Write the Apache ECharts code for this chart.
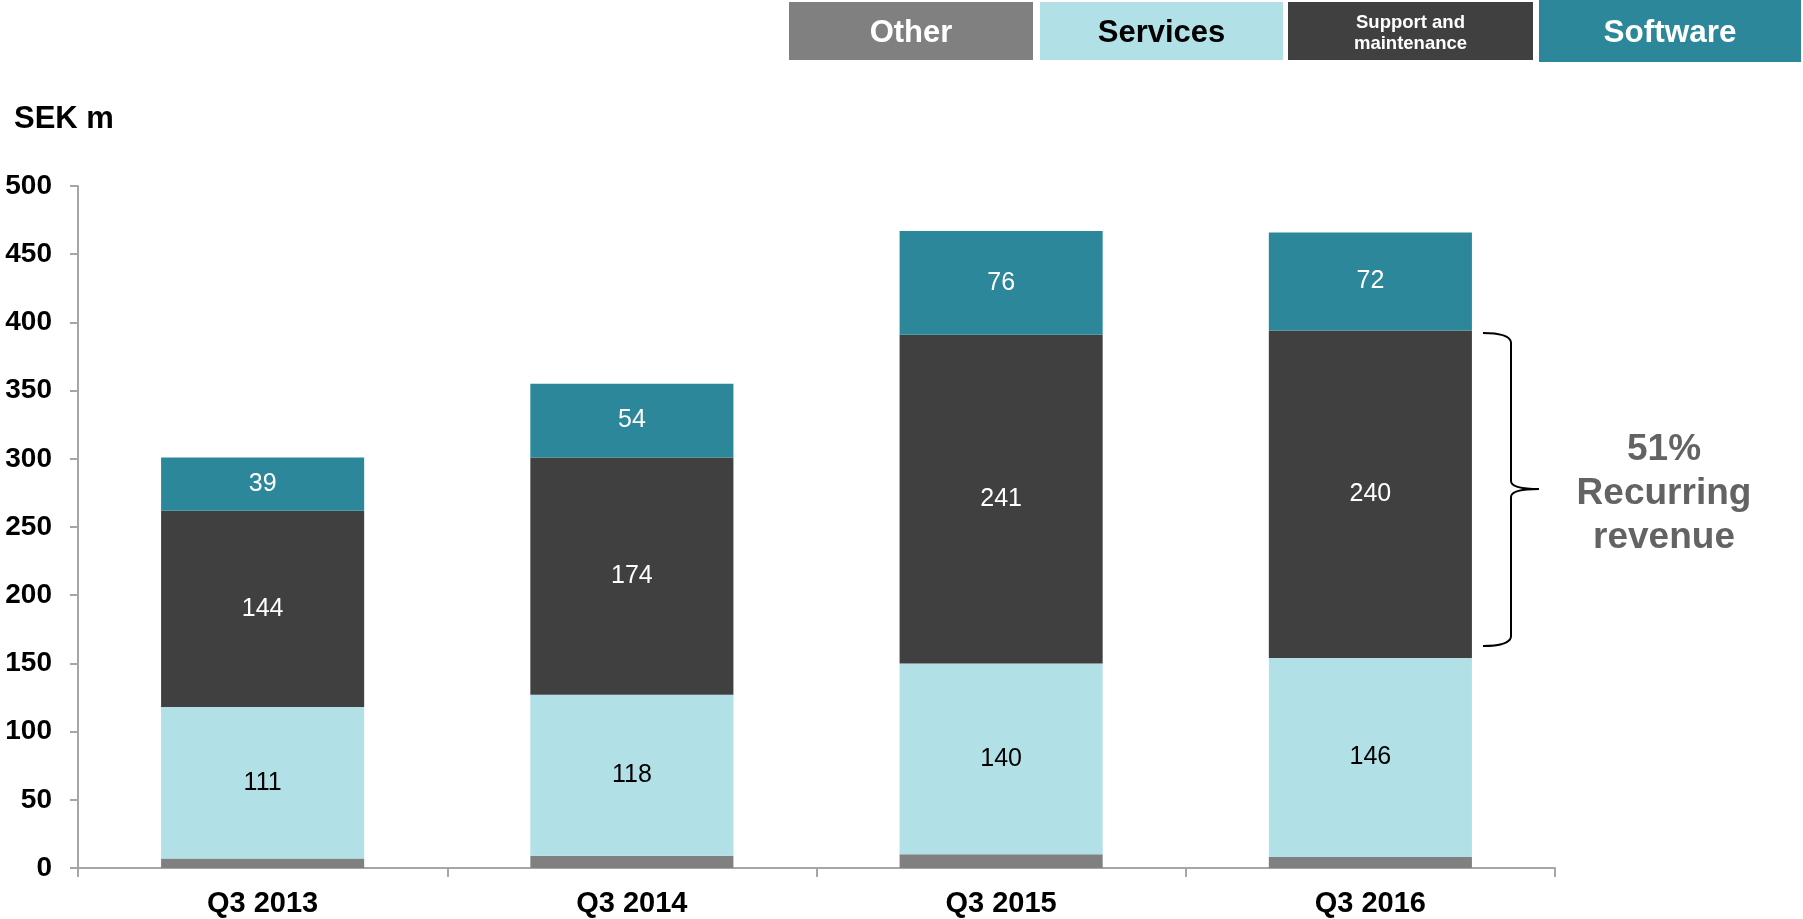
<!DOCTYPE html>
<html>
<head>
<meta charset="utf-8">
<script src="https://cdn.jsdelivr.net/npm/echarts@6/dist/echarts.min.js"></script>
<style>
    html, body {margin: 0; padding: 0; background: #fff;}
    #main {width: 1803px; height: 919px;}
</style>
</head>
<body>
<div id="main"></div>
<script>
// values, SEK m
var categories = ['Q3 2013', 'Q3 2014', 'Q3 2015', 'Q3 2016'];
var other = [7, 9, 10, 8];
var services = [111, 118, 140, 146];
var support = [144, 174, 241, 240];
var software = [39, 54, 76, 72];

var font = "'Liberation Sans', Arial, sans-serif";
var colors = {other: '#808080', services: '#b1e0e7', support: '#404040', software: '#2b8799'};

function seg(name, data, color, labelColor) {
    return {
        name: name,
        type: 'bar',
        stack: 'total',
        barWidth: '55%',
        data: data,
        itemStyle: {color: color},
        label: {
            show: labelColor != null,
            position: 'inside',
            color: labelColor,
            fontFamily: font,
            fontSize: 25
        }
    };
}

function legendBox(x, y, w, h, color, text, textColor, size, lh) {
    return [
        {type: 'rect', shape: {x: x, y: y, width: w, height: h}, style: {fill: color}},
        {
            type: 'text', x: x + w / 2, y: 33,
            style: {
                text: text, fill: textColor, font: 'bold ' + size + 'px ' + font,
                align: 'center', verticalAlign: 'middle', lineHeight: lh
            }
        }
    ];
}

var chart = echarts.init(document.getElementById('main'));

var graphics = [].concat(
    legendBox(789, 2, 244, 58, colors.other, 'Other', '#fff', 31),
    legendBox(1040, 2, 243, 58, colors.services, 'Services', '#000', 31),
    legendBox(1288, 2, 245, 58, colors.support, 'Support and\nmaintenance', '#fff', 18.5, 21),
    legendBox(1539, 0, 262, 62, colors.software, 'Software', '#fff', 31.5)
);

// bracket for recurring revenue
var bs = {fill: 'none', stroke: '#000', lineWidth: 2};
graphics.push(
    {type: 'bezierCurve', shape: {x1: 1483, y1: 333, x2: 1511, y2: 342, cpx1: 1509, cpy1: 333}, style: bs},
    {type: 'line', shape: {x1: 1511, y1: 342, x2: 1511, y2: 481}, style: bs},
    {type: 'bezierCurve', shape: {x1: 1511, y1: 481, x2: 1539, y2: 489, cpx1: 1511, cpy1: 489}, style: bs},
    {type: 'bezierCurve', shape: {x1: 1539, y1: 489, x2: 1511, y2: 497, cpx1: 1511, cpy1: 489}, style: bs},
    {type: 'line', shape: {x1: 1511, y1: 497, x2: 1511, y2: 637}, style: bs},
    {type: 'bezierCurve', shape: {x1: 1511, y1: 637, x2: 1483, y2: 646, cpx1: 1509, cpy1: 646}, style: bs}
);
graphics.push({
    type: 'text', x: 1664, y: 494,
    style: {
        text: '51%\nRecurring\nrevenue', fill: '#636363', font: 'bold 37px ' + font,
        align: 'center', verticalAlign: 'middle', lineHeight: 44
    }
});

var option = {
    animation: false,
    title: {
        text: 'SEK m',
        left: 9,
        top: 99,
        textStyle: {fontFamily: font, fontSize: 31, fontWeight: 'bold', color: '#000'}
    },
    grid: {left: 78, right: 248, top: 186, bottom: 51},
    xAxis: {
        type: 'category',
        data: categories,
        axisLine: {lineStyle: {color: '#a6a6a6', width: 2}},
        axisTick: {show: true, length: 9, lineStyle: {color: '#a6a6a6', width: 2}},
        axisLabel: {
            margin: 21,
            color: '#000',
            fontFamily: font,
            fontSize: 29,
            fontWeight: 'bold'
        }
    },
    yAxis: {
        type: 'value',
        min: 0,
        max: 500,
        interval: 50,
        splitLine: {show: false},
        axisLine: {show: true, lineStyle: {color: '#a6a6a6', width: 2}},
        axisTick: {show: true, length: 8, lineStyle: {color: '#a6a6a6', width: 2}},
        axisLabel: {
            margin: 26,
            color: '#000',
            fontFamily: font,
            fontSize: 28,
            fontWeight: 'bold'
        }
    },
    series: [
        seg('Other', other, colors.other, null),
        seg('Services', services, colors.services, '#000'),
        seg('Support and maintenance', support, colors.support, '#fff'),
        seg('Software', software, colors.software, '#fff')
    ],
    graphic: graphics
};

chart.setOption(option);
</script>
</body>
</html>
